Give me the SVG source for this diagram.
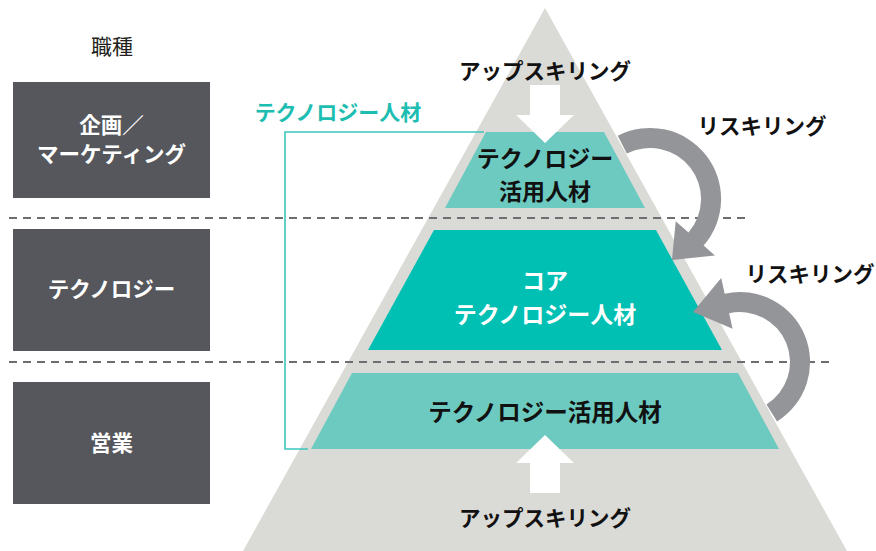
<svg xmlns="http://www.w3.org/2000/svg" width="876" height="551" viewBox="0 0 876 551">
<style>
text{font-family:"Noto Sans CJK JP","Noto Sans",sans-serif;text-anchor:middle;dominant-baseline:central}
.box{fill:#55575c}
.bl{fill:#fff;font-weight:700;font-size:21.5px}
.tl{font-weight:700;font-size:23.5px;fill:#111}
.tl2{font-weight:700;font-size:23px;fill:#111}
.sk{font-weight:700;font-size:21.5px;fill:#111}
.dash{stroke:#6d6e71;stroke-width:2;stroke-dasharray:8 6;fill:none}
.garrow{fill:#939598}
.warrow{fill:#fff}
</style>
<rect width="876" height="551" fill="#fff"/>
<text x="112" y="45" font-size="21" fill="#231f20">職種</text>
<g id="job-planning"><rect class="box" x="13" y="82" width="197" height="116"/><text class="bl" x="111.5" y="123">企画／</text><text class="bl" x="111.5" y="152">マーケティング</text></g>
<g id="job-tech"><rect class="box" x="13" y="229" width="197" height="122"/><text class="bl" x="111.5" y="287">テクノロジー</text></g>
<g id="job-sales"><rect class="box" x="13" y="382" width="197" height="122"/><text class="bl" x="111.5" y="441">営業</text></g>
<g id="pyramid"><polygon points="545,8 847,551 243,551" fill="#dadad6"/></g>
<g id="dividers"><line class="dash" x1="9" y1="218" x2="745" y2="218"/><line class="dash" x1="9" y1="362" x2="829" y2="362"/></g>
<g id="tier-top"><polygon points="486,132 604,132 645,208 445,208" fill="#6ccac0"/><text class="tl2" x="545" y="156.5">テクノロジー</text><text class="tl2" x="545" y="190">活用人材</text></g>
<g id="tier-core"><polygon points="434,230 656,230 722,350 368,350" fill="#00bfb3"/><text class="tl2" x="545" y="279" style="fill:#fff">コア</text><text class="tl2" x="545" y="312.5" style="fill:#fff">テクノロジー人材</text></g>
<g id="tier-bottom"><polygon points="352,373 738,373 779,449 311,449" fill="#6ccac0"/><text class="tl" x="545" y="411">テクノロジー活用人材</text></g>
<g id="tech-bracket"><path d="M484,132 H285 V449 H308" fill="none" stroke="#3cc6bd" stroke-width="1.6"/><text x="338" y="111" font-size="21" font-weight="700" fill="#1dbdb2">テクノロジー人材</text></g>
<g id="connectors">
<polygon class="warrow" points="530,85 560,85 560,115 574,115 545,143 516,115 530,115"/>
<polygon class="warrow" points="545,435 574,463 560,463 560,493 530,493 530,463 516,463"/>
<path class="garrow" d="M617.8,135.7 A71,71 0 0 1 703.6,245.6 L714.9,255.4 L672,260 L675.7,221.3 L688.5,232.5 A51,51 0 0 0 626.8,153.6 Z"/>
<path class="garrow" d="M777.1,421.4 A70,70 0 0 0 724.7,293.7 L721.2,278.1 L693,312 L732.6,328.8 L729.1,313.2 A50,50 0 0 1 766.5,404.4 Z"/>
</g>
<g id="labels">
<text class="sk" x="545" y="69">アップスキリング</text>
<text class="sk" x="545" y="516">アップスキリング</text>
<text class="sk" x="762" y="124">リスキリング</text>
<text class="sk" x="810" y="272">リスキリング</text>
</g>
</svg>
